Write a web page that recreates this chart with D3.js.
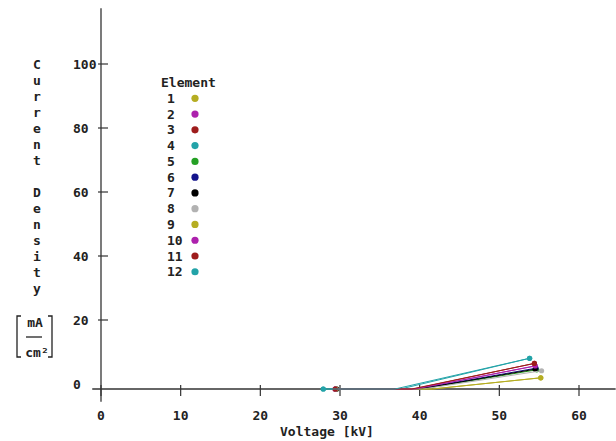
<!DOCTYPE html>
<html>
<head>
<meta charset="utf-8">
<script src="https://cdn.jsdelivr.net/npm/d3@7"></script>
<style>
  body { margin: 0; background: #fff; }
  text { font-family: "DejaVu Sans Mono", monospace; font-weight: bold; font-size: 13px; fill: #222; }
</style>
</head>
<body>
<svg id="chart" width="616" height="441"></svg>
<script>
// element numbers and marker colours
var elements = [1, 2, 3, 4, 5, 6, 7, 8, 9, 10, 11, 12];
var colors = ["#b5ad22", "#ad21ad", "#9e1c1c", "#23a3a8", "#24a024", "#14148c",
              "#000000", "#b2b2b2", "#b5ad22", "#ad21ad", "#9e1c1c", "#23a3a8"];

// each curve: onset voltage, knee voltage (still 0), last voltage and last current
var startV = [29.5, 29.4, 29.4, 27.9, 29.5, 29.5, 29.6, 29.5, 29.5, 29.4, 29.4, 27.9];
var kneeV  = [41.6, 39.6, 39.2, 37.6, 40.2, 39.8, 40.0, 40.4, 41.6, 39.4, 39.0, 36.9];
var endV   = [55.2, 54.5, 54.4, 53.8, 54.7, 54.6, 54.5, 55.3, 55.2, 54.5, 54.4, 53.8];
var endI   = [3.5, 7.2, 8.0, 9.6, 6.0, 6.5, 6.2, 5.7, 3.5, 7.2, 8.0, 9.6];

var xTicks = [0, 10, 20, 30, 40, 50, 60];
var yTicks = [0, 20, 40, 60, 80, 100];
var yTitle = "Current Density";

var svg = d3.select("#chart");

var x = d3.scaleLinear().domain([0, 60]).range([101, 579]);
var y = d3.scaleLinear().domain([0, 100]).range([389, 69]);

var axisColor = "#333";

// axis lines
svg.append("line")
    .attr("x1", x(-1.1)).attr("x2", x(64.6))
    .attr("y1", y(0)).attr("y2", y(0))
    .attr("stroke", axisColor).attr("stroke-width", 1.3);
svg.append("line")
    .attr("x1", x(0)).attr("x2", x(0))
    .attr("y1", y(-4)).attr("y2", y(119))
    .attr("stroke", axisColor).attr("stroke-width", 1.3);

// x ticks
var xg = svg.append("g");
xg.selectAll("line").data(xTicks).enter().append("line")
    .attr("x1", function(d){ return x(d); }).attr("x2", function(d){ return x(d); })
    .attr("y1", y(0) - 4).attr("y2", y(0) + 7)
    .attr("stroke", axisColor).attr("stroke-width", 1.2);
xg.selectAll("text").data(xTicks).enter().append("text")
    .attr("x", function(d){ return x(d); })
    .attr("y", y(0) + 31)
    .attr("text-anchor", "middle")
    .text(function(d){ return d; });

svg.append("text")
    .attr("x", 327).attr("y", 436)
    .attr("text-anchor", "middle")
    .text("Voltage [kV]");

// y ticks (drawn a few pixels above the data zero, like the original)
var yg = svg.append("g").attr("transform", "translate(0,-5)");
yg.selectAll("line").data(yTicks.filter(function(d){ return d > 0; })).enter().append("line")
    .attr("x1", x(0) - 3).attr("x2", x(0) + 7)
    .attr("y1", function(d){ return y(d); }).attr("y2", function(d){ return y(d); })
    .attr("stroke", axisColor).attr("stroke-width", 1.2);
yg.selectAll("text").data(yTicks).enter().append("text")
    .attr("x", 73)
    .attr("y", function(d){ return y(d) + 5; })
    .text(function(d){ return d; });

// vertical y title, one letter per row
svg.append("g").selectAll("text").data(yTitle.split("")).enter().append("text")
    .attr("x", 37)
    .attr("y", function(d, i){ return 69 + i * 16; })
    .attr("text-anchor", "middle")
    .text(function(d){ return d; });

// unit box  [ mA / cm² ]
var u = svg.append("g");
u.append("path").attr("d", "M21,316 H17 V357 H21").attr("fill", "none").attr("stroke", "#222").attr("stroke-width", 1.3);
u.append("path").attr("d", "M48,316 H52 V357 H48").attr("fill", "none").attr("stroke", "#222").attr("stroke-width", 1.3);
u.append("text").attr("x", 35).attr("y", 327).attr("text-anchor", "middle").text("mA");
u.append("line").attr("x1", 26).attr("x2", 42).attr("y1", 337).attr("y2", 337).attr("stroke", "#222").attr("stroke-width", 1.3);
u.append("text").attr("x", 37).attr("y", 357).attr("text-anchor", "middle").text("cm²");

// curves
var line = d3.line().x(function(d){ return x(d[0]); }).y(function(d){ return y(d[1]); });
var series = elements.map(function(e, i){
    return { el: e, color: colors[i],
             pts: [[startV[i], 0], [kneeV[i], 0], [endV[i], endI[i]]] };
});

var curves = svg.append("g");
series.forEach(function(s){
    curves.append("path")
        .attr("d", line(s.pts))
        .attr("fill", "none")
        .attr("stroke", s.color)
        .attr("stroke-width", 1);
    var ends = [s.pts[0], s.pts[s.pts.length - 1]];
    curves.selectAll(null).data(ends).enter().append("circle")
        .attr("cx", function(d){ return x(d[0]); })
        .attr("cy", function(d){ return y(d[1]); })
        .attr("r", 2.6)
        .attr("fill", s.color);
});

// legend
var lg = svg.append("g");
lg.append("text").attr("x", 161).attr("y", 87).text("Element");
var rows = lg.selectAll("g.row").data(series).enter().append("g")
    .attr("transform", function(d, i){ return "translate(0," + (98.3 + i * 15.77) + ")"; });
rows.append("text").attr("x", 167).attr("y", 4.5).text(function(d){ return d.el; });
rows.append("circle").attr("cx", 195).attr("cy", 0).attr("r", 3.6)
    .attr("fill", function(d){ return d.color; });
</script>
</body>
</html>
